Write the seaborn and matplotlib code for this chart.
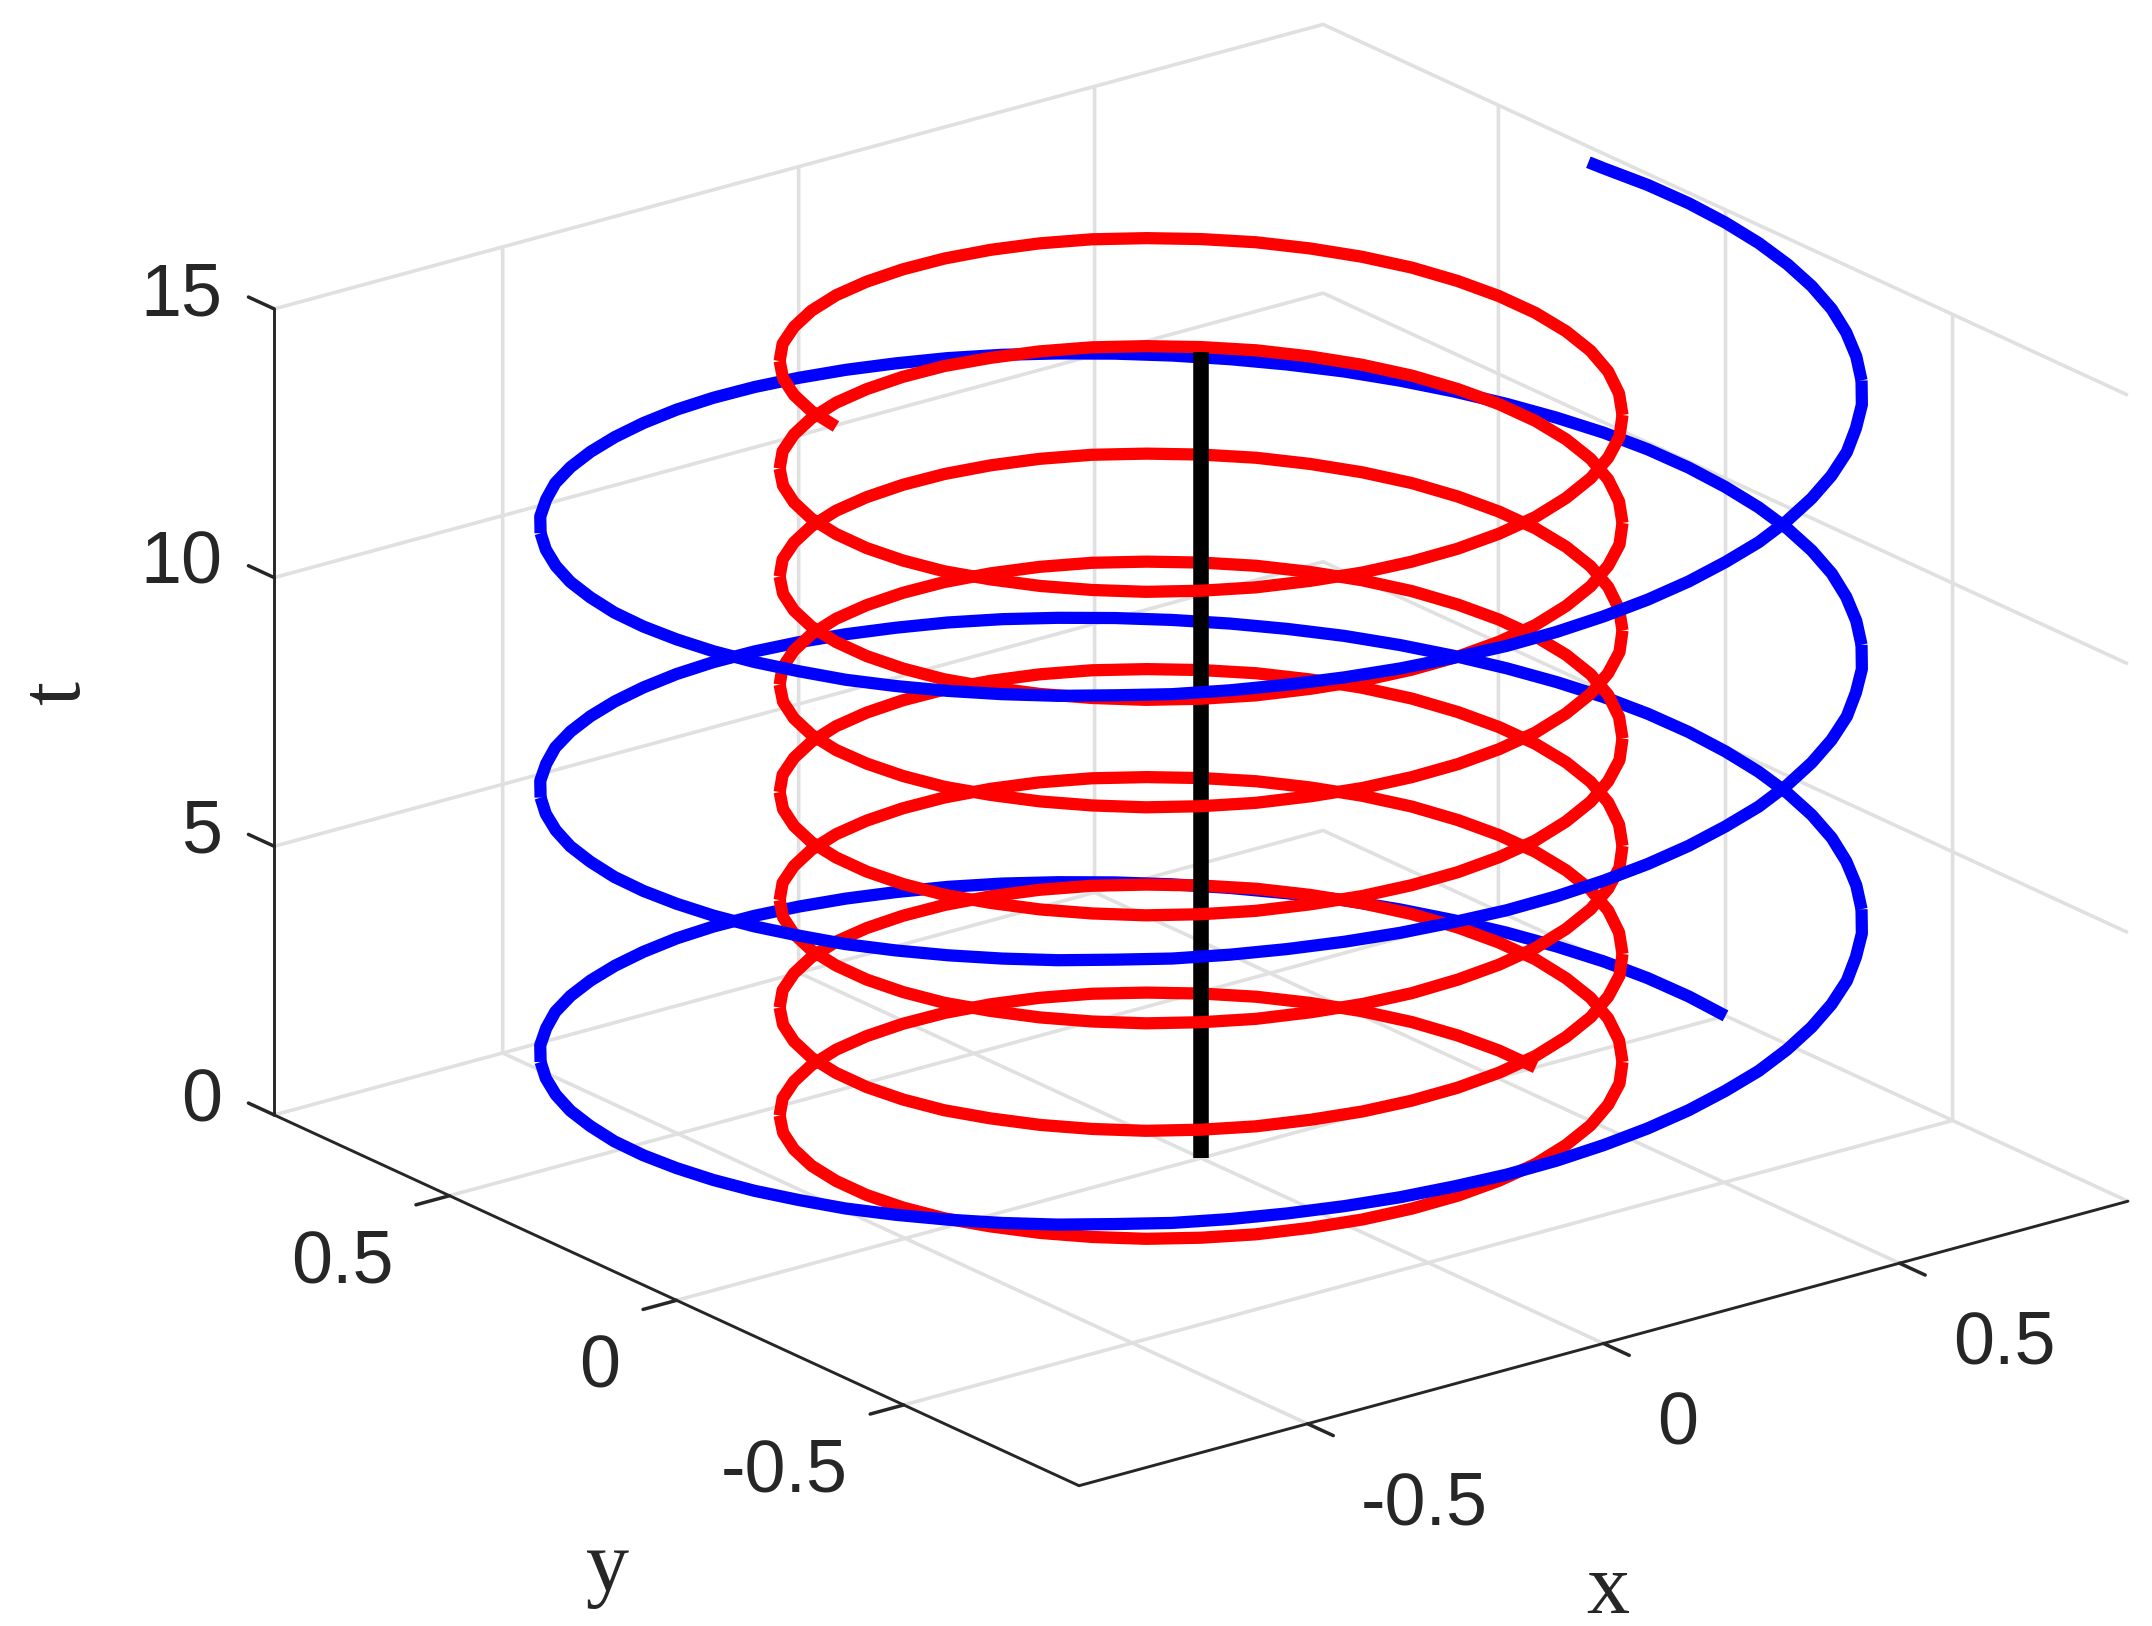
import numpy as np
import matplotlib
matplotlib.use("Agg")
import matplotlib.pyplot as plt
import seaborn as sns

# values
x_ticks = [-0.5, 0, 0.5]
y_ticks = [-0.5, 0, 0.5]
t_ticks = [0, 5, 10, 15]
x_tick_labels = ["-0.5", "0", "0.5"]
y_tick_labels = ["-0.5", "0", "0.5"]
t_tick_labels = ["0", "5", "10", "15"]

blue_x = [.886, .883, .873, .856, .833, .803, .767, .726, .679, .626, .570, .508, .443, .374, .303, .229, .154, .077, 0,
          -.077, -.154, -.229, -.303, -.374, -.443, -.508, -.570, -.626, -.679, -.726, -.767, -.803, -.833, -.856, -.873, -.883, -.886,
          -.883, -.873, -.856, -.833, -.803, -.767, -.726, -.679, -.626, -.570, -.508, -.443, -.374, -.303, -.229, -.154, -.077, 0,
          .077, .154, .229, .303, .374, .443, .508, .570, .626, .679, .726, .767, .803, .833, .856, .873, .883,
          .886, .883, .873, .856, .833, .803, .767, .726, .679, .626, .570, .508, .443, .374, .303, .229, .154, .077, 0,
          -.077, -.154, -.229, -.303, -.374, -.443, -.508, -.570, -.626, -.679, -.726, -.767, -.803, -.833, -.856, -.873, -.883, -.886,
          -.883, -.873, -.856, -.833, -.803, -.767, -.726, -.679, -.626, -.570, -.508, -.443, -.374, -.303, -.229, -.154, -.077, 0,
          .077, .154, .229, .303, .374, .443, .508, .570, .626, .679, .726, .767, .803, .833, .856, .873, .883,
          .886, .883, .873, .856, .833, .803, .767, .726, .679, .626, .570, .508, .443, .374, .303, .229, .154, .077, 0,
          -.077, -.154, -.229, -.303, -.374, -.443, -.508, -.570, -.626, -.679, -.726, -.767, -.803, -.833, -.856, -.873, -.883, -.886,
          -.883, -.873, -.856, -.833, -.803, -.767, -.726, -.679, -.626, -.570, -.508, -.443, -.374, -.303, -.229, -.154, -.077, 0,
          .077, .154, .229, .303, .374, .443, .508, .570, .626, .679, .726, .767, .803, .833, .856, .873, .883,
          .886, .883, .873, .856, .850]
blue_y = [0, .077, .154, .229, .303, .374, .443, .508, .570, .626, .679, .726, .767, .803, .833, .856, .873, .883, .886,
          .883, .873, .856, .833, .803, .767, .726, .679, .626, .570, .508, .443, .374, .303, .229, .154, .077, 0,
          -.077, -.154, -.229, -.303, -.374, -.443, -.508, -.570, -.626, -.679, -.726, -.767, -.803, -.833, -.856, -.873, -.883, -.886,
          -.883, -.873, -.856, -.833, -.803, -.767, -.726, -.679, -.626, -.570, -.508, -.443, -.374, -.303, -.229, -.154, -.077,
          0, .077, .154, .229, .303, .374, .443, .508, .570, .626, .679, .726, .767, .803, .833, .856, .873, .883, .886,
          .883, .873, .856, .833, .803, .767, .726, .679, .626, .570, .508, .443, .374, .303, .229, .154, .077, 0,
          -.077, -.154, -.229, -.303, -.374, -.443, -.508, -.570, -.626, -.679, -.726, -.767, -.803, -.833, -.856, -.873, -.883, -.886,
          -.883, -.873, -.856, -.833, -.803, -.767, -.726, -.679, -.626, -.570, -.508, -.443, -.374, -.303, -.229, -.154, -.077,
          0, .077, .154, .229, .303, .374, .443, .508, .570, .626, .679, .726, .767, .803, .833, .856, .873, .883, .886,
          .883, .873, .856, .833, .803, .767, .726, .679, .626, .570, .508, .443, .374, .303, .229, .154, .077, 0,
          -.077, -.154, -.229, -.303, -.374, -.443, -.508, -.570, -.626, -.679, -.726, -.767, -.803, -.833, -.856, -.873, -.883, -.886,
          -.883, -.873, -.856, -.833, -.803, -.767, -.726, -.679, -.626, -.570, -.508, -.443, -.374, -.303, -.229, -.154, -.077,
          0, .077, .154, .229, .255]
blue_t = [0, .07, .14, .21, .27, .34, .41, .48, .55, .62, .68, .75, .82, .89, .96, 1.03, 1.09, 1.16,
          1.23, 1.30, 1.37, 1.44, 1.50, 1.57, 1.64, 1.71, 1.78, 1.85, 1.91, 1.98, 2.05, 2.12, 2.19, 2.26, 2.32, 2.39,
          2.46, 2.53, 2.60, 2.67, 2.73, 2.80, 2.87, 2.94, 3.01, 3.08, 3.14, 3.21, 3.28, 3.35, 3.42, 3.49, 3.55, 3.62,
          3.69, 3.76, 3.83, 3.90, 3.96, 4.03, 4.10, 4.17, 4.24, 4.31, 4.37, 4.44, 4.51, 4.58, 4.65, 4.72, 4.78, 4.85,
          4.92, 4.99, 5.06, 5.13, 5.19, 5.26, 5.33, 5.40, 5.47, 5.54, 5.60, 5.67, 5.74, 5.81, 5.88, 5.95, 6.01, 6.08,
          6.15, 6.22, 6.29, 6.36, 6.42, 6.49, 6.56, 6.63, 6.70, 6.77, 6.83, 6.90, 6.97, 7.04, 7.11, 7.18, 7.24, 7.31,
          7.38, 7.45, 7.52, 7.59, 7.65, 7.72, 7.79, 7.86, 7.93, 8.00, 8.06, 8.13, 8.20, 8.27, 8.34, 8.41, 8.47, 8.54,
          8.61, 8.68, 8.75, 8.82, 8.88, 8.95, 9.02, 9.09, 9.16, 9.23, 9.29, 9.36, 9.43, 9.50, 9.57, 9.64, 9.70, 9.77,
          9.84, 9.91, 9.98, 10.05, 10.11, 10.18, 10.25, 10.32, 10.39, 10.46, 10.52, 10.59, 10.66, 10.73, 10.80, 10.87, 10.93, 11.00,
          11.07, 11.14, 11.21, 11.28, 11.34, 11.41, 11.48, 11.55, 11.62, 11.69, 11.75, 11.82, 11.89, 11.96, 12.03, 12.10, 12.16, 12.23,
          12.30, 12.37, 12.44, 12.51, 12.57, 12.64, 12.71, 12.78, 12.85, 12.92, 12.98, 13.05, 13.12, 13.19, 13.26, 13.33, 13.39, 13.46,
          13.53, 13.60, 13.67, 13.74, 13.80, 13.87, 13.94, 14.01, 14.08, 14.15, 14.21, 14.28, 14.35, 14.42, 14.49, 14.56, 14.62, 14.69,
          14.76, 14.83, 14.90, 14.97, 15.0]

red_x = [.565, .560, .546, .522, .489, .448, .400, .344, .283, .216, .146, .074, 0, -.074, -.146, -.216, -.283, -.344, -.400, -.448, -.489, -.522, -.546, -.560,
         -.565, -.560, -.546, -.522, -.489, -.448, -.400, -.344, -.283, -.216, -.146, -.074, 0, .074, .146, .216, .283, .344, .400, .448, .489, .522, .546, .560,
         .565, .560, .546, .522, .489, .448, .400, .344, .283, .216, .146, .074, 0, -.074, -.146, -.216, -.283, -.344, -.400, -.448, -.489, -.522, -.546, -.560,
         -.565, -.560, -.546, -.522, -.489, -.448, -.400, -.344, -.283, -.216, -.146, -.074, 0, .074, .146, .216, .283, .344, .400, .448, .489, .522, .546, .560,
         .565, .560, .546, .522, .489, .448, .400, .344, .283, .216, .146, .074, 0, -.074, -.146, -.216, -.283, -.344, -.400, -.448, -.489, -.522, -.546, -.560,
         -.565, -.560, -.546, -.522, -.489, -.448, -.400, -.344, -.283, -.216, -.146, -.074, 0, .074, .146, .216, .283, .344, .400, .448, .489, .522, .546, .560,
         .565, .560, .546, .522, .489, .448, .400, .344, .283, .216, .146, .074, 0, -.074, -.146, -.216, -.283, -.344, -.400, -.448, -.489, -.522, -.546, -.560,
         -.565, -.560, -.546, -.522, -.489, -.448, -.400, -.344, -.283, -.216, -.146, -.074, 0, .074, .146, .216, .283, .344, .400, .448, .489, .522, .546, .560,
         .565, .560, .546, .522, .489, .448, .400, .344, .283, .216, .146, .074, 0, -.074, -.146, -.216, -.283, -.344, -.400, -.448, -.489, -.522, -.546, -.560,
         -.565, -.560, -.546, -.522, -.489, -.448, -.400, -.344, -.283, -.216, -.146, -.074, 0, .074, .146, .216, .283, .344, .400, .448, .489, .522, .546, .560,
         .565, .560, .546, .522, .489, .448, .400, .344, .283, .216, .146, .074, 0, -.074, -.146, -.216, -.283, -.344, -.400, -.448, -.489, -.522, -.546, -.560,
         -.565, -.560, -.546, -.522, -.489, -.448, -.400, -.344, -.283, -.216, -.146, -.074, 0, .074, .146, .216, .283, .344, .400, .448, .489, .522, .546, .560,
         .565, .560, .546, .522, .489, .448, .400, .344, .283, .216, .146, .074, 0, -.074, -.146, -.216, -.283, -.344, -.400, -.448, -.489, -.522, -.546, -.560,
         -.565, -.560, -.546, -.522, -.489, -.448, -.400, -.344, -.283, -.216, -.146, -.074, 0, .074, .146, .216, .283, .344, .400, .448, .489, .522, .546, .560,
         .565, .560, .546, .522, .489, .448, .400, .344, .283, .216, .146, .074, 0, -.074, -.146, -.216, -.283, -.344, -.400, -.448, -.489, -.522, -.546, -.560]
red_y = [0, .074, .146, .216, .283, .344, .400, .448, .489, .522, .546, .560, .565, .560, .546, .522, .489, .448, .400, .344, .283, .216, .146, .074,
         0, -.074, -.146, -.216, -.283, -.344, -.400, -.448, -.489, -.522, -.546, -.560, -.565, -.560, -.546, -.522, -.489, -.448, -.400, -.344, -.283, -.216, -.146, -.074,
         0, .074, .146, .216, .283, .344, .400, .448, .489, .522, .546, .560, .565, .560, .546, .522, .489, .448, .400, .344, .283, .216, .146, .074,
         0, -.074, -.146, -.216, -.283, -.344, -.400, -.448, -.489, -.522, -.546, -.560, -.565, -.560, -.546, -.522, -.489, -.448, -.400, -.344, -.283, -.216, -.146, -.074,
         0, .074, .146, .216, .283, .344, .400, .448, .489, .522, .546, .560, .565, .560, .546, .522, .489, .448, .400, .344, .283, .216, .146, .074,
         0, -.074, -.146, -.216, -.283, -.344, -.400, -.448, -.489, -.522, -.546, -.560, -.565, -.560, -.546, -.522, -.489, -.448, -.400, -.344, -.283, -.216, -.146, -.074,
         0, .074, .146, .216, .283, .344, .400, .448, .489, .522, .546, .560, .565, .560, .546, .522, .489, .448, .400, .344, .283, .216, .146, .074,
         0, -.074, -.146, -.216, -.283, -.344, -.400, -.448, -.489, -.522, -.546, -.560, -.565, -.560, -.546, -.522, -.489, -.448, -.400, -.344, -.283, -.216, -.146, -.074,
         0, .074, .146, .216, .283, .344, .400, .448, .489, .522, .546, .560, .565, .560, .546, .522, .489, .448, .400, .344, .283, .216, .146, .074,
         0, -.074, -.146, -.216, -.283, -.344, -.400, -.448, -.489, -.522, -.546, -.560, -.565, -.560, -.546, -.522, -.489, -.448, -.400, -.344, -.283, -.216, -.146, -.074,
         0, .074, .146, .216, .283, .344, .400, .448, .489, .522, .546, .560, .565, .560, .546, .522, .489, .448, .400, .344, .283, .216, .146, .074,
         0, -.074, -.146, -.216, -.283, -.344, -.400, -.448, -.489, -.522, -.546, -.560, -.565, -.560, -.546, -.522, -.489, -.448, -.400, -.344, -.283, -.216, -.146, -.074,
         0, .074, .146, .216, .283, .344, .400, .448, .489, .522, .546, .560, .565, .560, .546, .522, .489, .448, .400, .344, .283, .216, .146, .074,
         0, -.074, -.146, -.216, -.283, -.344, -.400, -.448, -.489, -.522, -.546, -.560, -.565, -.560, -.546, -.522, -.489, -.448, -.400, -.344, -.283, -.216, -.146, -.074,
         0, .074, .146, .216, .283, .344, .400, .448, .489, .522, .546, .560, .565, .560, .546, .522, .489, .448, .400, .344, .283, .216, .146, .074]
red_t = [0, .04, .08, .13, .17, .21, .25, .29, .33, .38, .42, .46,
         .50, .54, .58, .63, .67, .71, .75, .79, .83, .88, .92, .96,
         1.00, 1.04, 1.08, 1.13, 1.17, 1.21, 1.25, 1.29, 1.33, 1.38, 1.42, 1.46,
         1.50, 1.54, 1.58, 1.63, 1.67, 1.71, 1.75, 1.79, 1.83, 1.88, 1.92, 1.96,
         2.01, 2.05, 2.09, 2.14, 2.18, 2.22, 2.26, 2.30, 2.34, 2.39, 2.43, 2.47,
         2.51, 2.55, 2.59, 2.64, 2.68, 2.72, 2.76, 2.80, 2.84, 2.89, 2.93, 2.97,
         3.01, 3.05, 3.09, 3.14, 3.18, 3.22, 3.26, 3.30, 3.34, 3.39, 3.43, 3.47,
         3.51, 3.55, 3.59, 3.64, 3.68, 3.72, 3.76, 3.80, 3.84, 3.89, 3.93, 3.97,
         4.01, 4.05, 4.09, 4.14, 4.18, 4.22, 4.26, 4.30, 4.34, 4.39, 4.43, 4.47,
         4.51, 4.55, 4.59, 4.64, 4.68, 4.72, 4.76, 4.80, 4.84, 4.89, 4.93, 4.97,
         5.01, 5.05, 5.09, 5.14, 5.18, 5.22, 5.26, 5.30, 5.34, 5.39, 5.43, 5.47,
         5.52, 5.56, 5.60, 5.65, 5.69, 5.73, 5.77, 5.81, 5.85, 5.90, 5.94, 5.98,
         6.02, 6.06, 6.10, 6.15, 6.19, 6.23, 6.27, 6.31, 6.35, 6.40, 6.44, 6.48,
         6.52, 6.56, 6.60, 6.65, 6.69, 6.73, 6.77, 6.81, 6.85, 6.90, 6.94, 6.98,
         7.02, 7.06, 7.10, 7.15, 7.19, 7.23, 7.27, 7.31, 7.35, 7.40, 7.44, 7.48,
         7.52, 7.56, 7.60, 7.65, 7.69, 7.73, 7.77, 7.81, 7.85, 7.90, 7.94, 7.98,
         8.02, 8.06, 8.10, 8.15, 8.19, 8.23, 8.27, 8.31, 8.35, 8.40, 8.44, 8.48,
         8.52, 8.56, 8.60, 8.65, 8.69, 8.73, 8.77, 8.81, 8.85, 8.90, 8.94, 8.98,
         9.03, 9.07, 9.11, 9.16, 9.20, 9.24, 9.28, 9.32, 9.36, 9.41, 9.45, 9.49,
         9.53, 9.57, 9.61, 9.66, 9.70, 9.74, 9.78, 9.82, 9.86, 9.91, 9.95, 9.99,
         10.03, 10.07, 10.11, 10.16, 10.20, 10.24, 10.28, 10.32, 10.36, 10.41, 10.45, 10.49,
         10.53, 10.57, 10.61, 10.66, 10.70, 10.74, 10.78, 10.82, 10.86, 10.91, 10.95, 10.99,
         11.03, 11.07, 11.11, 11.16, 11.20, 11.24, 11.28, 11.32, 11.36, 11.41, 11.45, 11.49,
         11.53, 11.57, 11.61, 11.66, 11.70, 11.74, 11.78, 11.82, 11.86, 11.91, 11.95, 11.99,
         12.03, 12.07, 12.11, 12.16, 12.20, 12.24, 12.28, 12.32, 12.36, 12.41, 12.45, 12.49,
         12.54, 12.58, 12.62, 12.67, 12.71, 12.75, 12.79, 12.83, 12.87, 12.92, 12.96, 13.00,
         13.04, 13.08, 13.12, 13.17, 13.21, 13.25, 13.29, 13.33, 13.37, 13.42, 13.46, 13.50,
         13.54, 13.58, 13.62, 13.67, 13.71, 13.75, 13.79, 13.83, 13.87, 13.92, 13.96, 14.00,
         14.04, 14.08, 14.12, 14.17, 14.21, 14.25, 14.29, 14.33, 14.37, 14.42, 14.46, 14.50,
         14.54, 14.58, 14.62, 14.67, 14.71, 14.75, 14.79, 14.83, 14.87, 14.92, 14.96, 15.0]

black_x = [0, 0]
black_y = [0, 0]
black_t = [0, 15]

# 1. Theme and figure
sns.set_theme(style="white")
plt.rcParams["font.family"] = ["Liberation Sans", "DejaVu Sans"]
text_color = "#262626"
grid_color = "#e0e0e0"

fig = plt.figure(figsize=(10.76, 8.13), dpi=200)
ax = fig.add_axes([0.0446, -0.144, 1, 1.3235], projection="3d", proj_type="ortho", computed_zorder=False)
ax.patch.set_alpha(0)
ax.view_init(elev=20.7, azim=-127.5)
ax.set_box_aspect((1318, 1318, 859), zoom=0.9287)
ax.set_xlim(-0.886, 0.886, view_margin=0)
ax.set_ylim(-0.886, 0.886, view_margin=0)
ax.set_zlim(0, 15, view_margin=0)


# 2. Curves, back halves first so that the front halves cross over the centre line
def draw_curve(xs, ys, ts, color, z_back, z_front):
    xs, ys, ts = np.array(xs), np.array(ys), np.array(ts)
    front = xs * 0.609 + ys * 0.793 < 0
    cuts = [0] + list(np.where(front[1:] != front[:-1])[0] + 1) + [len(xs) - 1]
    for a, b in zip(cuts[:-1], cuts[1:]):
        z = z_front if front[min(a + 1, b)] else z_back
        ax.plot(xs[a:b + 1], ys[a:b + 1], ts[a:b + 1], color=color, lw=4.4,
                zorder=z, solid_capstyle="butt", solid_joinstyle="round")


draw_curve(blue_x, blue_y, blue_t, "#0000ff", 3, 7)
draw_curve(red_x, red_y, red_t, "#ff0000", 4, 6)
ax.plot(black_x, black_y, black_t, color="black", lw=5.6, zorder=5, solid_capstyle="butt")

# 3. Axes
ax.set_xticks(x_ticks)
ax.set_yticks(y_ticks)
ax.set_zticks(t_ticks)
ax.zaxis.set_ticks_position("upper")
ax.zaxis._get_tickdir = lambda pos: 1  # t ticks run along y, as in the reference
ax.tick_params(color=text_color, width=1.0)
for axis in [ax.xaxis, ax.yaxis, ax.zaxis]:
    axis.set_pane_color((1, 1, 1, 0))
    axis.line.set_color(text_color)
    axis.line.set_linewidth(1.05)
    axis._axinfo["grid"].update(color=grid_color, linewidth=1.3)
    axis._axinfo["tick"].update(inward_factor=0.0, outward_factor=-0.4)
    axis.set_tick_params(label1On=False, label2On=False)
    axis.label.set_visible(False)
    axis.offsetText.set_visible(False)
ax.zaxis._axinfo["tick"].update(outward_factor=0.4)

# tick labels sit beside the floor edges and the left edge
for v, s in zip(x_ticks, x_tick_labels):
    ax.text(v, -0.886 - 0.118, -1.05, s, ha="left", va="center", fontsize=26.5, color=text_color)
for v, s in zip(y_ticks, y_tick_labels):
    ax.text(-0.886 - 0.095, v, -0.97, s, ha="right", va="center", fontsize=26.5, color=text_color)
for v, s in zip(t_ticks, t_tick_labels):
    ax.text(-0.886, 0.886 + 0.115, v - 0.2, s, ha="right", va="center", fontsize=26.5, color=text_color)

serif = ["Liberation Serif", "DejaVu Serif"]
fig.text(1608 / 2152, 1 - 1592 / 1626, "x", ha="center", va="center", fontsize=31, family=serif, color=text_color)
fig.text(608 / 2152, 1 - 1569 / 1626, "y", ha="center", va="center", fontsize=31, family=serif, color=text_color)
fig.text(58 / 2152, 1 - 693 / 1626, "t", ha="center", va="center", fontsize=31, family=serif, color=text_color, rotation=90)

# 4. Save
fig.savefig("out.png", dpi=200)
